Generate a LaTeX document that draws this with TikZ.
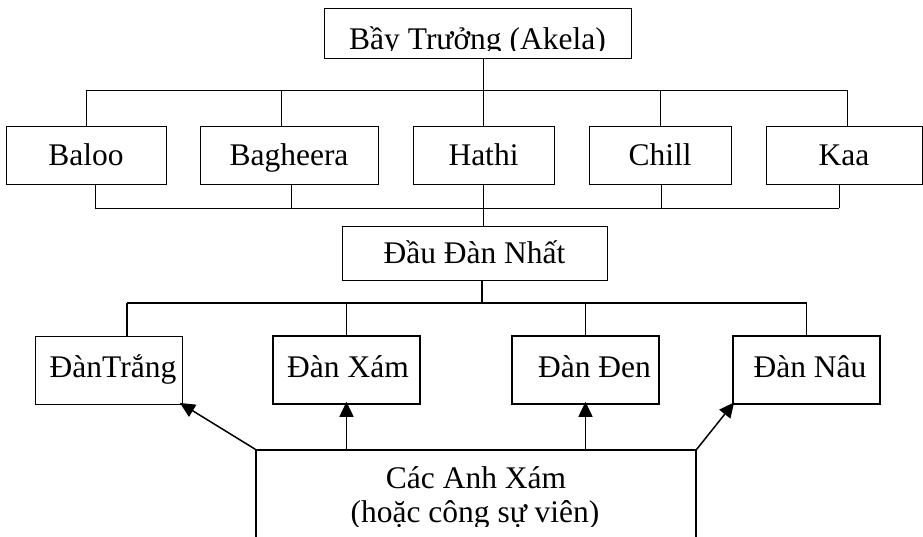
\documentclass[tikz,border=0pt]{standalone}
\usepackage{fontspec}
\setmainfont{Liberation Serif}
\usetikzlibrary{arrows.meta,calc}
\begin{document}
\begin{tikzpicture}[x=1pt,y=-1pt,
  every node/.style={font=\fontsize{31.5}{36}\selectfont},
  box/.style={draw, line width=0.9pt, inner sep=0pt, text height=21pt, text depth=0pt},
  lowbox/.style={draw, line width=1.5pt, inner sep=0pt, text height=21pt, text depth=6.5pt, minimum width=147pt, minimum height=68pt},
  rowbox/.style={box, minimum height=58pt},
  conn/.style={line width=0.9pt},
  conn2/.style={line width=1.3pt},
  arr/.style={line width=1.5pt, -{Triangle[length=15pt,width=14pt]}, shorten >=-3pt}]
\useasboundingbox (0,0) rectangle (923,536);
\fill[white] (0,0) rectangle (923,536);
\clip (0,0) rectangle (923,536);

% top box
\node[box, minimum width=307pt, minimum height=50pt] (akela) at (477.5,33) {};
\begin{scope}
  \clip (324,8) rectangle (631,50.5);
  \node[anchor=base, inner sep=0pt] (akelatext) at (477.5,49) {Bầy Trưởng (Akela)};
\end{scope}

% row 1
\node[rowbox, minimum width=160pt] (baloo) at (86,155) {Baloo};
\node[rowbox, minimum width=178pt] (bagheera) at (289,155) {Bagheera};
\node[rowbox, minimum width=141pt] (hathi) at (483.5,155) {Hathi};
\node[rowbox, minimum width=142pt] (chill) at (660,155) {Chill};
\node[rowbox, minimum width=156pt] (kaa) at (844,155) {Kaa};

% middle
\node[box, minimum width=265pt, minimum height=54pt] (deudan) at (474.5,253) {Đầu Đàn Nhất};

% row 3
\node[lowbox, line width=1pt] (trang) at (108.5,370) {\hspace*{9pt}ĐànTrắng};
\node[lowbox] (xam) at (346.5,370) {\hspace*{3pt}Đàn Xám};
\node[lowbox] (den) at (585.5,370) {\hspace*{18pt}Đàn Đen};
\node[lowbox] (nau) at (806.5,370) {\hspace*{7pt}Đàn Nâu};

% bottom box
\node[draw, line width=1.5pt, minimum width=440pt, minimum height=150pt, inner sep=0pt] (grey) at (476,525) {};
\begin{scope}
  \clip (258,452) rectangle (694,526);
  \node[anchor=base, inner sep=0pt] (greyA) at (476,488) {Các Anh Xám};
  \node[anchor=base, inner sep=0pt] (greyB) at (475,522) {(hoặc công sự viên)};
\end{scope}

% buses
\coordinate (busA) at (0,90);
\coordinate (busB) at (0,208);
\coordinate (busC) at (0,303);

\coordinate (bagA) at ([xshift=-8pt]bagheera.north);
\coordinate (kaaA) at ([xshift=3pt]kaa.north);
\draw[conn] (akela.south -| hathi.north) -- (hathi.north);
\draw[conn] (baloo.north |- busA) -- (kaaA |- busA);
\draw[conn] (baloo.north) -- (baloo.north |- busA);
\draw[conn] (bagA) -- (bagA |- busA);
\draw[conn] (chill.north) -- (chill.north |- busA);
\draw[conn] (kaaA) -- (kaaA |- busA);

\coordinate (balooB) at ([xshift=9pt]baloo.south);
\coordinate (bagB) at ([xshift=2pt]bagheera.south);
\coordinate (chillB) at ([xshift=1pt]chill.south);
\coordinate (kaaB) at ([xshift=-5pt]kaa.south);
\draw[conn] (balooB |- busB) -- (kaaB |- busB);
\draw[conn] (balooB) -- (balooB |- busB);
\draw[conn] (bagB) -- (bagB |- busB);
\draw[conn] (chillB) -- (chillB |- busB);
\draw[conn] (kaaB) -- (kaaB |- busB);
\draw[conn] (hathi.south) -- (hathi.south |- deudan.north);

\coordinate (ddB) at ([xshift=7.5pt]deudan.south);
\coordinate (trangC) at ([xshift=18.5pt]trang.north);
\draw[conn2] (ddB) -- (ddB |- busC);
\draw[conn2] (trangC |- busC) -- (nau.north |- busC);
\draw[conn2] (trangC) -- (trangC |- busC);
\draw[conn2] (xam.north) -- (xam.north |- busC);
\draw[conn2] (den.north) -- (den.north |- busC);
\draw[conn2] (nau.north) -- (nau.north |- busC);

% arrows
\draw[arr] (grey.north west) -- (trang.south east);
\draw[arr] (xam.south |- grey.north) -- (xam.south);
\draw[arr] (den.south |- grey.north) -- (den.south);
\draw[arr] (grey.north east) -- (nau.south west);
\end{tikzpicture}
\end{document}
